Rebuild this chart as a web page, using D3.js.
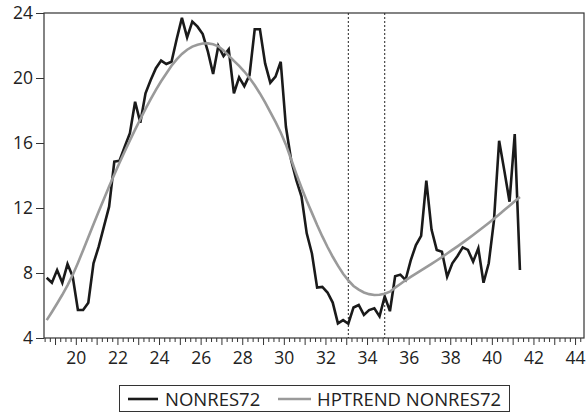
<!DOCTYPE html>
<html>
<head>
<meta charset="utf-8">
<script src="https://cdn.jsdelivr.net/npm/d3@7"></script>
<style>
  body { margin: 0; background: #fff; }
  text { font-family: "Open Sans", sans-serif; fill: #222; }
</style>
</head>
<body>
<svg id="chart" width="586" height="415"></svg>
<script>
// quarterly observations, x in years (19xx)
const startYear = 18.6, stepYear = 0.25;

const nonres72 = [7.71, 7.40, 8.18, 7.40, 8.55, 7.78, 5.72, 5.72, 6.17, 8.60,
  9.62, 10.85, 12.08, 14.85, 14.91, 15.77, 16.60, 18.54, 17.25, 19.06,
  19.88, 20.60, 21.07, 20.86, 21.00, 22.40, 23.70, 22.50, 23.47, 23.16,
  22.70, 21.62, 20.25, 21.97, 21.35, 21.76, 19.06, 20.04, 19.50, 20.18,
  23.00, 23.00, 20.90, 19.71, 20.08, 21.00, 17.00, 14.95, 13.72, 12.70,
  10.44, 9.20, 7.10, 7.14, 6.80, 6.18, 4.90, 5.10, 4.88, 5.88,
  6.03, 5.42, 5.72, 5.83, 5.33, 6.56, 5.65, 7.80, 7.90, 7.57,
  8.78, 9.72, 10.28, 13.68, 10.67, 9.42, 9.31, 7.77, 8.60, 9.05,
  9.58, 9.42, 8.70, 9.52, 7.40, 8.60, 11.20, 16.14, 14.30, 12.39,
  16.55, 8.18];

const hptrend = [5.10, 5.60, 6.12, 6.66, 7.24, 7.88, 8.62, 9.40, 10.20, 11.00,
  11.79, 12.56, 13.32, 14.06, 14.78, 15.48, 16.16, 16.82, 17.46, 18.10,
  18.70, 19.27, 19.80, 20.28, 20.75, 21.15, 21.48, 21.74, 21.93, 22.05,
  22.12, 22.13, 22.08, 21.95, 21.70, 21.38, 21.05, 20.75, 20.40, 20.00,
  19.55, 19.05, 18.50, 17.90, 17.30, 16.65, 15.90, 15.00, 14.10, 13.25,
  12.45, 11.70, 10.95, 10.25, 9.60, 9.00, 8.45, 7.95, 7.55, 7.20,
  6.98, 6.80, 6.70, 6.65, 6.66, 6.72, 6.85, 7.10, 7.32, 7.55,
  7.76, 7.96, 8.16, 8.36, 8.56, 8.77, 8.98, 9.20, 9.42, 9.64,
  9.87, 10.10, 10.34, 10.58, 10.83, 11.08, 11.34, 11.60, 11.87, 12.14,
  12.41, 12.68];

const markerYears = [33.1, 34.85];
const yTicks = [4, 8, 12, 16, 20, 24];
const xLabels = [20, 22, 24, 26, 28, 30, 32, 34, 36, 38, 40, 42, 44];
const legendNames = ["NONRES72", "HPTREND NONRES72"];
const colors = ["#1a1a1a", "#9a9a9a"];

const svg = d3.select("#chart");
const box = { left: 44, right: 584, top: 13, bottom: 338 };

const x = d3.scaleLinear().domain([18.47, 44.43]).range([box.left, box.right]);
const y = d3.scaleLinear().domain([4, 24]).range([box.bottom, box.top]);

const t = i => startYear + stepYear * i;

// frame
svg.append("rect")
  .attr("x", box.left).attr("y", box.top)
  .attr("width", box.right - box.left).attr("height", box.bottom - box.top)
  .attr("fill", "none").attr("stroke", "#333").attr("stroke-width", 1.2);

// y axis
const gy = svg.append("g")
  .attr("transform", `translate(${box.left},0)`)
  .call(d3.axisLeft(y).tickValues(yTicks).tickSize(8).tickPadding(3));
gy.select(".domain").remove();
gy.selectAll("line").attr("stroke", "#333");
gy.selectAll("text").style("font-size", "17.5px").attr("fill", "#222");

// x axis: quarter ticks, year ticks, labels every two years
const quarters = d3.range(18.5, 44.45, 0.25).filter(v => Math.abs(v - Math.round(v)) > 0.01);
const gxq = svg.append("g")
  .attr("transform", `translate(0,${box.bottom})`)
  .call(d3.axisBottom(x).tickValues(quarters).tickSize(4).tickFormat(""));
gxq.select(".domain").remove();
gxq.selectAll("line").attr("stroke", "#333");

const gx = svg.append("g")
  .attr("transform", `translate(0,${box.bottom})`)
  .call(d3.axisBottom(x).tickValues(d3.range(19, 45)).tickSize(7).tickPadding(7)
    .tickFormat(d => xLabels.includes(d) ? d : ""));
gx.select(".domain").remove();
gx.selectAll("line").attr("stroke", "#333");
gx.selectAll("text").style("font-size", "17.5px").attr("fill", "#222");

// dotted markers
svg.selectAll("line.marker")
  .data(markerYears)
  .enter().append("line")
  .attr("class", "marker")
  .attr("x1", d => x(d)).attr("x2", d => x(d))
  .attr("y1", box.top).attr("y2", box.bottom)
  .attr("stroke", "#222").attr("stroke-width", 1)
  .attr("stroke-dasharray", "2,2");

// series
const line = d3.line()
  .x((d, i) => x(t(i)))
  .y(d => y(d));

[nonres72, hptrend].forEach((s, k) => {
  svg.append("path")
    .datum(s)
    .attr("d", line)
    .attr("fill", "none")
    .attr("stroke", colors[k])
    .attr("stroke-width", 2.6)
    .attr("stroke-linejoin", "miter");
});

// legend
const lg = svg.append("g");
lg.append("rect")
  .attr("x", 119.5).attr("y", 385.5).attr("width", 390).attr("height", 26)
  .attr("fill", "#fff").attr("stroke", "#333").attr("stroke-width", 1);
const items = [{ x0: 128, x1: 158, tx: 165 }, { x0: 278, x1: 311, tx: 317 }];
items.forEach((it, k) => {
  lg.append("line")
    .attr("x1", it.x0).attr("x2", it.x1).attr("y1", 399).attr("y2", 399)
    .attr("stroke", colors[k]).attr("stroke-width", 2.6);
  lg.append("text")
    .attr("x", it.tx).attr("y", 405.5)
    .style("font-size", "18.5px")
    .text(legendNames[k]);
});
</script>
</body>
</html>
